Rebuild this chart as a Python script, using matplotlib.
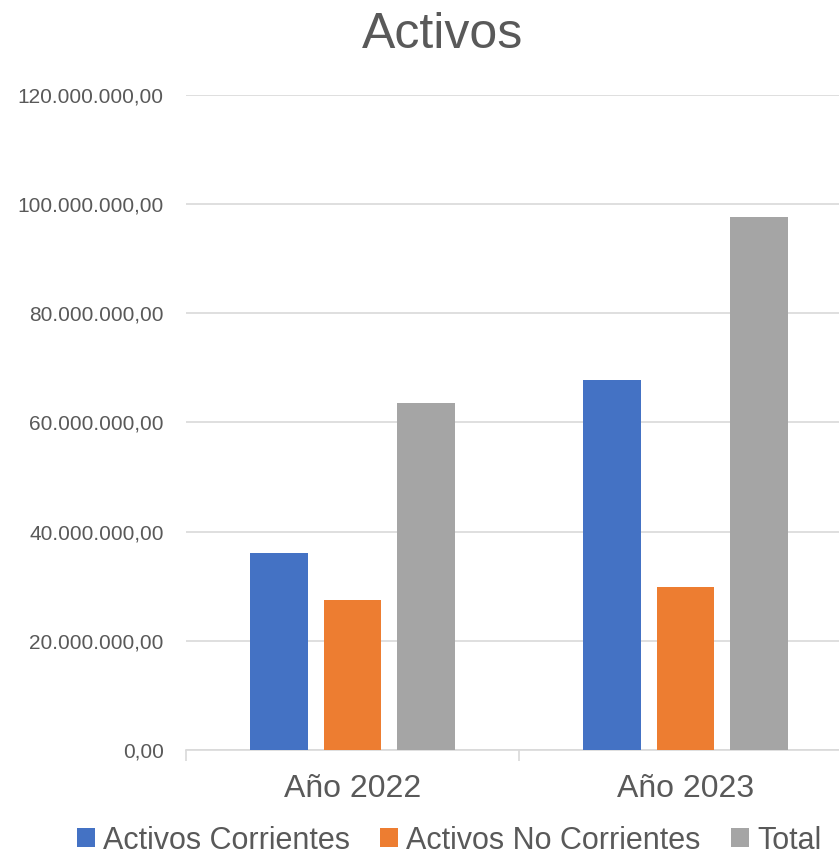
import matplotlib.pyplot as plt
import numpy as np
from matplotlib.ticker import FuncFormatter

plt.rcParams['font.family'] = ['Liberation Sans', 'DejaVu Sans']

categories = ["Año 2022", "Año 2023"]
series_names = ["Activos Corrientes", "Activos No Corrientes", "Total"]
corrientes = [36.1e6, 67.8e6]
no_corrientes = [27.5e6, 29.9e6]
total = [63.6e6, 97.7e6]
colors = ['#4472C4', '#ED7D31', '#A5A5A5']

text_color = '#595959'

fig = plt.figure(figsize=(8.39, 8.59), dpi=100)
# plot area runs past the right edge, as in the original
ax = fig.add_axes([0.2217, 0.1269, 0.7938, 0.7625])

x = np.arange(len(categories))
width = 0.174
step = 0.222
for i, (vals, name) in enumerate(zip([corrientes, no_corrientes, total], series_names)):
    ax.bar(x + (i - 1) * step, vals, width, color=colors[i], label=name, zorder=3)

ax.set_xlim(-0.5, 1.5)
ax.set_ylim(0, 120e6)
ax.set_yticks(np.arange(0, 120e6 + 1, 20e6))


def fmt(v, pos):
    s = f"{v:,.2f}"
    return s.replace(",", "X").replace(".", ",").replace("X", ".")


ax.yaxis.set_major_formatter(FuncFormatter(fmt))
ax.grid(axis='y', color='#d9d9d9', linewidth=1.2, zorder=0)
for s in ['top', 'right', 'left']:
    ax.spines[s].set_visible(False)
ax.spines['bottom'].set_color('#d9d9d9')
ax.spines['bottom'].set_linewidth(1.2)

ax.tick_params(axis='y', length=0, labelsize=15, labelcolor=text_color, pad=16)
ax.set_xticks(x)
ax.set_xticklabels(categories)
ax.tick_params(axis='x', length=0, labelsize=23, labelcolor=text_color, pad=17)
ax.set_xticks([-0.5, 0.5, 1.5], minor=True)
ax.tick_params(axis='x', which='minor', length=8, color='#d9d9d9', width=1.2)

fig.suptitle("Activos", fontsize=36, color=text_color, x=0.527, y=0.986, va='top')

fig.legend(loc='lower center', bbox_to_anchor=(0.535, -0.028), ncol=3, frameon=False,
           fontsize=22, labelcolor=text_color, handlelength=0.6, handleheight=0.6,
           handletextpad=0.25, columnspacing=1.0)

fig.savefig("out.png", dpi=100)
